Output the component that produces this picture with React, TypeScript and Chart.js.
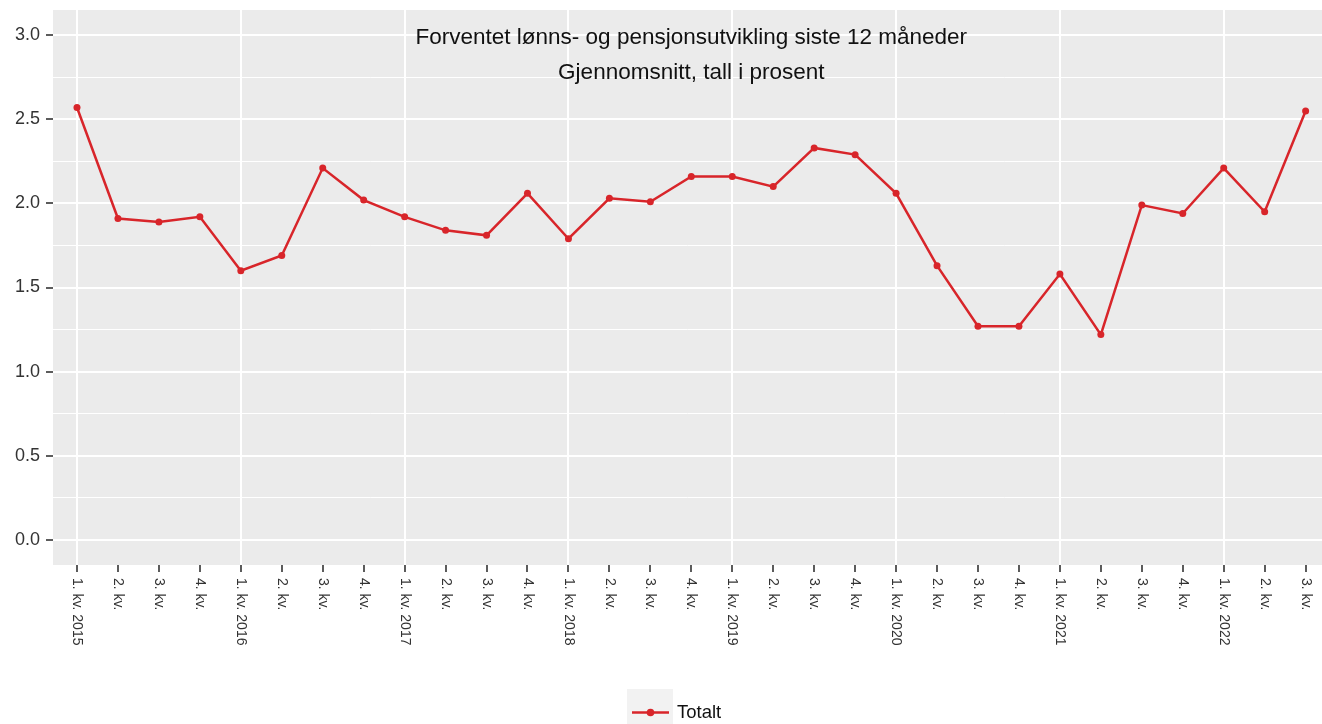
import React, { useEffect, useRef } from "react";
import { Chart, registerables } from "chart.js";

Chart.register(...registerables);

const xLabels = [
  "1. kv. 2015", "2. kv.", "3. kv.", "4. kv.",
  "1. kv. 2016", "2. kv.", "3. kv.", "4. kv.",
  "1. kv. 2017", "2. kv.", "3. kv.", "4. kv.",
  "1. kv. 2018", "2. kv.", "3. kv.", "4. kv.",
  "1. kv. 2019", "2. kv.", "3. kv.", "4. kv.",
  "1. kv. 2020", "2. kv.", "3. kv.", "4. kv.",
  "1. kv. 2021", "2. kv.", "3. kv.", "4. kv.",
  "1. kv. 2022", "2. kv.", "3. kv.",
];

const totalt = [
  2.57, 1.91, 1.89, 1.92,
  1.60, 1.69, 2.21, 2.02,
  1.92, 1.84, 1.81, 2.06,
  1.79, 2.03, 2.01, 2.16,
  2.16, 2.10, 2.33, 2.29,
  2.06, 1.63, 1.27, 1.27,
  1.58, 1.22, 1.99, 1.94,
  2.21, 1.95, 2.55,
];

const yTicks = [0, 0.25, 0.5, 0.75, 1, 1.25, 1.5, 1.75, 2, 2.25, 2.5, 2.75, 3];

const titleLines = [
  "Forventet lønns- og pensjonsutvikling siste 12 måneder",
  "Gjennomsnitt, tall i prosent",
];
const seriesName = "Totalt";

const RED = "#d8252a";
const FONT = "'Liberation Sans', Arial, sans-serif";

export default function App() {
  const ref = useRef<HTMLCanvasElement | null>(null);

  useEffect(() => {
    if (!ref.current) return;

    const decor = {
      id: "decor",
      beforeDraw(chart: any) {
        const { ctx, chartArea: a } = chart;
        ctx.save();
        ctx.fillStyle = "#ebebeb";
        ctx.fillRect(a.left, a.top, a.right - a.left, a.bottom - a.top);
        ctx.restore();
      },
      afterDraw(chart: any) {
        const { ctx, chartArea: a } = chart;
        const xs = chart.scales.x;
        ctx.save();
        // x labels rotated
        ctx.fillStyle = "#333";
        ctx.font = `14px ${FONT}`;
        ctx.textAlign = "left";
        ctx.textBaseline = "middle";
        xLabels.forEach((lab, i) => {
          const px = xs.getPixelForValue(i);
          ctx.save();
          ctx.translate(px, a.bottom + 13);
          ctx.rotate(Math.PI / 2);
          ctx.fillText(lab, 0, 0);
          ctx.restore();
        });
        // title inside panel
        const cx = xs.getPixelForValue((xLabels.length - 1) / 2);
        ctx.fillStyle = "#111";
        ctx.font = `22.5px ${FONT}`;
        ctx.textAlign = "center";
        ctx.textBaseline = "middle";
        ctx.fillText(titleLines[0], cx, 38);
        ctx.fillText(titleLines[1], cx, 73);
        // legend
        ctx.fillStyle = "#f2f2f2";
        ctx.fillRect(627, 689, 46, 45);
        ctx.strokeStyle = RED;
        ctx.lineWidth = 2.5;
        ctx.beginPath();
        ctx.moveTo(632, 712.5);
        ctx.lineTo(669, 712.5);
        ctx.stroke();
        ctx.fillStyle = RED;
        ctx.beginPath();
        ctx.arc(650.5, 712.5, 3.8, 0, Math.PI * 2);
        ctx.fill();
        ctx.fillStyle = "#111";
        ctx.font = `18.5px ${FONT}`;
        ctx.textAlign = "left";
        ctx.fillText(seriesName, 677, 713);
        ctx.restore();
      },
    };

    const chart = new Chart(ref.current, {
      type: "line",
      data: {
        datasets: [
          {
            label: seriesName,
            data: totalt.map((v, i) => ({ x: i, y: v })),
            borderColor: RED,
            backgroundColor: RED,
            borderWidth: 2.5,
            pointRadius: 3.5,
            pointBorderWidth: 0,
            pointBackgroundColor: RED,
            tension: 0,
          },
        ],
      },
      options: {
        animation: false,
        responsive: false,
        devicePixelRatio: 1,
        layout: { autoPadding: false, padding: { top: 10, left: 0, right: 0, bottom: 0 } },
        plugins: {
          legend: { display: false },
          title: { display: false },
          tooltip: { enabled: false },
        },
        scales: {
          x: {
            type: "linear",
            min: -0.586,
            max: 30.4,
            afterBuildTicks: (s: any) => {
              s.ticks = xLabels.map((_, i) => ({ value: i }));
            },
            afterFit: (s: any) => {
              s.height = 159;
              s.paddingLeft = 0;
              s.paddingRight = 0;
              s.paddingTop = 0;
              s.paddingBottom = 0;
            },
            ticks: { display: false },
            border: { display: false },
            grid: {
              color: (c: any) =>
                c.tick && c.tick.value % 4 === 0 ? "#ffffff" : "rgba(0,0,0,0)",
              lineWidth: 2,
              drawTicks: true,
              tickLength: 7,
              tickColor: "#333",
              tickWidth: 1.6,
            },
          },
          y: {
            type: "linear",
            min: -0.15,
            max: 3.15,
            afterBuildTicks: (s: any) => {
              s.ticks = yTicks.map((v) => ({ value: v }));
            },
            afterFit: (s: any) => {
              s.width = 53;
              s.paddingTop = 0;
              s.paddingBottom = 0;
              s.paddingLeft = 0;
              s.paddingRight = 0;
            },
            ticks: {
              padding: 6,
              color: "#333",
              font: { family: FONT, size: 18 },
              callback: (v: any, i: number) => (i % 2 === 0 ? Number(v).toFixed(1) : ""),
            },
            border: { display: false },
            grid: {
              color: "#ffffff",
              lineWidth: (c: any) => (c.index % 2 === 0 ? 2 : 1),
              drawTicks: true,
              tickLength: 7,
              tickColor: (c: any) => (c.index % 2 === 0 ? "#333" : "rgba(0,0,0,0)"),
              tickWidth: 1.6,
            },
          },
        },
      },
      plugins: [decor],
    } as any);

    return () => chart.destroy();
  }, []);

  return (
    <div style={{ position: "fixed", left: 0, top: 0, width: 1322, height: 724, background: "#fff" }}>
      <canvas ref={ref} width={1322} height={724} style={{ display: "block" }} />
    </div>
  );
}
